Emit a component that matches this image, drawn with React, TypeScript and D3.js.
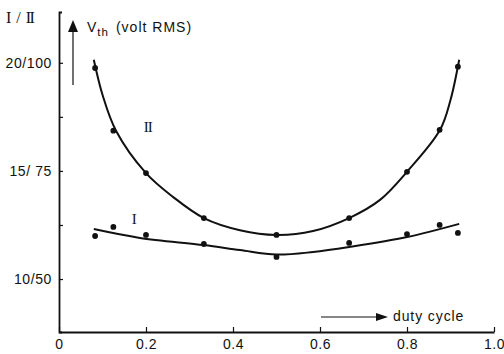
import * as React from "react";
import * as d3 from "d3";
import { select, axisBottom, axisLeft } from "d3";

// measured duty cycles (1/12, 1/8, 0.2, 1/3, 0.5, 2/3, 0.8, 7/8, 11/12)
const duty = [0.083, 0.125, 0.2, 0.333, 0.5, 0.667, 0.8, 0.875, 0.917];
// curve I, volt RMS (left scale)
const vthI = [11.99, 12.41, 12.04, 11.62, 11.02, 11.67, 12.08, 12.5, 12.13];
// curve II, volt RMS (right scale)
const vthII = [98.8, 84.3, 74.5, 64.1, 60.2, 64.1, 74.8, 84.5, 99.1];

// drawn fit curves
const fitXI = [0.08, 0.186, 0.333, 0.416, 0.5, 0.584, 0.667, 0.8, 0.92];
const fitI = [12.31, 11.9, 11.57, 11.34, 11.13, 11.25, 11.48, 11.94, 12.55];
const fitXII = [0.08, 0.1, 0.131, 0.2, 0.262, 0.333, 0.416, 0.5, 0.584, 0.667, 0.738, 0.8, 0.876, 0.9, 0.92];
const fitII = [100.7, 92.6, 84.3, 74.5, 69.0, 64.1, 61.3, 60.2, 61.1, 64.1, 68.3, 74.8, 84.5, 91.4, 100.7];

const xTicks = [0, 0.2, 0.4, 0.6, 0.8, 1.0];
const yTicks = [10, 12.5, 15, 17.5, 20];
const yLabels: Record<number, string> = { 10: "10/50", 15: "15/ 75", 20: "20/100" };

const W = 504;
const H = 354;
const ink = "#111";
const sans = "'Liberation Sans', Arial, sans-serif";
const serif = "'Liberation Serif', 'DejaVu Serif', serif";

export default function App() {
  const x = d3.scaleLinear().domain([0, 1]).range([59, 494]);
  const yI = d3.scaleLinear().domain([7.55, 22.35]).range([332, 12]);
  const yII = d3.scaleLinear().domain([37.75, 111.75]).range([332, 12]);

  const lineI = d3
    .line<number>()
    .x((_, i) => x(fitXI[i]))
    .y(d => yI(d))
    .curve(d3.curveCatmullRom.alpha(0.5));
  const lineII = d3
    .line<number>()
    .x((_, i) => x(fitXII[i]))
    .y(d => yII(d))
    .curve(d3.curveCatmullRom.alpha(0.5));

  const styleAxis = (g: any) => {
    g.selectAll("path.domain").attr("stroke", ink).attr("stroke-width", 1.8);
    g.selectAll(".tick line").attr("stroke", ink).attr("stroke-width", 1.2);
    g.selectAll(".tick text")
      .attr("fill", ink)
      .attr("font-family", sans)
      .attr("font-size", 14)
      .attr("letter-spacing", 0.6);
  };

  return (
    <svg
      width={W}
      height={H}
      style={{ position: "absolute", left: 0, top: 0, background: "#fff" }}
    >
      <g
        className="axis axis--x"
        transform={`translate(0,${yI(7.55)})`}
        ref={node => {
          if (!node) return;
          const g = select(node);
          g.call(
            axisBottom(x)
              .tickValues(xTicks)
              .tickSizeInner(-5)
              .tickSizeOuter(0)
              .tickPadding(7)
              .tickFormat(d => (+d === 0 ? "0" : d3.format(".1f")(+d)))
          );
          styleAxis(g);
        }}
      />
      <g
        className="axis axis--y"
        transform={`translate(${x(0)},0)`}
        ref={node => {
          if (!node) return;
          const g = select(node);
          g.call(
            axisLeft(yI)
              .tickValues(yTicks)
              .tickSizeInner(-4)
              .tickSizeOuter(-3)
              .tickPadding(7)
              .tickFormat(d => yLabels[+d] || "")
          );
          styleAxis(g);
        }}
      />

      {/* fit curves */}
      <path d={lineII(fitII) || ""} fill="none" stroke={ink} strokeWidth={2} />
      <path d={lineI(fitI) || ""} fill="none" stroke={ink} strokeWidth={2} />

      {/* measured points */}
      {duty.map((d, i) => (
        <circle key={"ii" + i} cx={x(d)} cy={yII(vthII[i])} r={2.9} fill={ink} />
      ))}
      {duty.map((d, i) => (
        <circle key={"i" + i} cx={x(d)} cy={yI(vthI[i])} r={2.9} fill={ink} />
      ))}

      {/* curve labels */}
      <text x={x(0.195)} y={yII(84)} fontFamily={serif} fontSize={15} fill={ink} letterSpacing={-1}>
        II
      </text>
      <text x={x(0.167)} y={yI(12.55)} fontFamily={serif} fontSize={15} fill={ink}>
        I
      </text>

      {/* top-left scale label */}
      <text x={6} y={23} fontFamily={serif} fontSize={16} fill={ink} letterSpacing={0.5}>
        I / <tspan letterSpacing={-1.5}>II</tspan>
      </text>

      {/* Vth arrow */}
      <line x1={73} y1={85} x2={73} y2={30} stroke={ink} strokeWidth={1.2} />
      <path d="M73,20 L68,32 L78,32 Z" fill={ink} />
      <text x={87} y={32} fontFamily={sans} fontSize={14} fill={ink} letterSpacing={1}>
        V
        <tspan fontSize={11.5} dy={4}>th</tspan>
        <tspan dy={-4} dx={7}>(volt RMS)</tspan>
      </text>

      {/* duty cycle arrow */}
      <line x1={321} y1={317} x2={379} y2={317} stroke={ink} strokeWidth={1.2} />
      <path d="M388,317 L376,313 L376,321 Z" fill={ink} />
      <text x={393} y={321} fontFamily={sans} fontSize={14} fill={ink} letterSpacing={0.9}>
        duty cycle
      </text>
    </svg>
  );
}
